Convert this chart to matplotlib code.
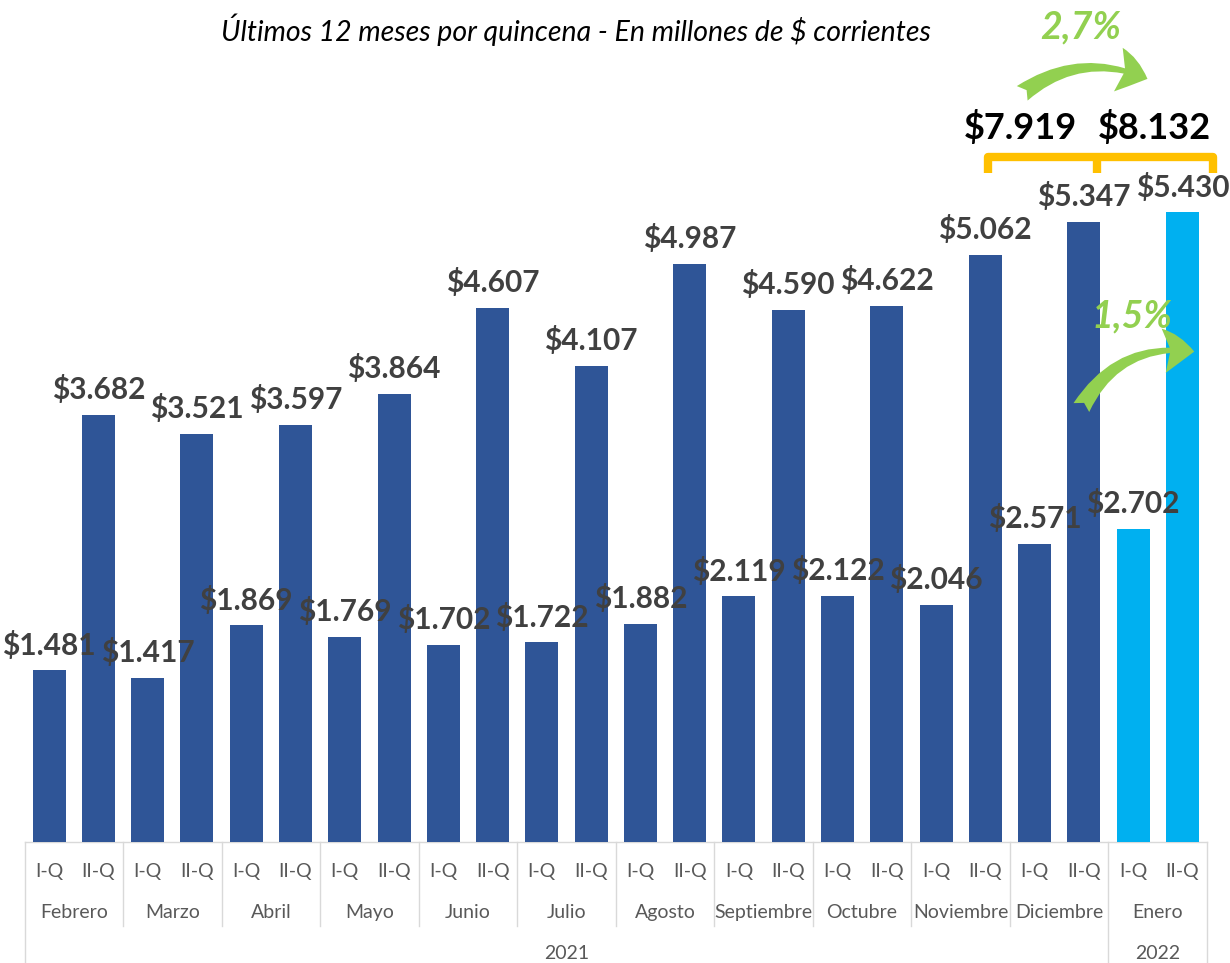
import matplotlib
matplotlib.use("Agg")
import matplotlib.pyplot as plt
from matplotlib.patches import FancyArrowPatch
from matplotlib.lines import Line2D

# ---------------- data ----------------
months = ['Febrero', 'Marzo', 'Abril', 'Mayo', 'Junio', 'Julio', 'Agosto',
          'Septiembre', 'Octubre', 'Noviembre', 'Diciembre', 'Enero']
quincenas = ['I-Q', 'II-Q']
years = ['2021', '2022']
months_per_year = [11, 1]
iq_values = [1481, 1417, 1869, 1769, 1702, 1722, 1882, 2119, 2122, 2046, 2571, 2702]
iiq_values = [3682, 3521, 3597, 3864, 4607, 4107, 4987, 4590, 4622, 5062, 5347, 5430]
subtitle = 'Últimos 12 meses por quincena - En millones de $ corrientes'
total_prev = 7919
total_curr = 8132
pct_month = '2,7%'
pct_q = '1,5%'

# ---------------- style ----------------
W, H = 1230, 963
FONT = 'Lato'
dark_blue = '#2F5597'
light_blue = '#00B0F0'
label_col = '#404040'
tick_col = '#595959'
grid_col = '#D9D9D9'
green = '#92D050'
orange = '#FFC000'

plt.rcParams['font.family'] = [FONT, 'DejaVu Sans']

fig = plt.figure(figsize=(W / 100, H / 100), dpi=100)
base_px = 842
ax_left, ax_right = 24.5, 1207
ax = fig.add_axes([ax_left / W, (H - base_px) / H, (ax_right - ax_left) / W, base_px / H])

# series in order
values, colors, qlabels = [], [], []
year_of_month = []
for yi, n in enumerate(months_per_year):
    year_of_month += [yi] * n
for m in range(len(months)):
    for q, v in zip(quincenas, [iq_values[m], iiq_values[m]]):
        values.append(v)
        qlabels.append(q)
        colors.append(dark_blue if year_of_month[m] == 0 else light_blue)

x = list(range(len(values)))
ax.bar(x, values, width=0.67, color=colors, zorder=2)
px_per_unit = 0.116
ax.set_ylim(0, base_px / px_per_unit)
ax.set_xlim(-0.5, len(values) - 0.5)
ax.axis('off')

def fmt(v):
    return '$' + f'{v:,}'.replace(',', '.')

for xi, v in zip(x, values):
    ax.annotate(fmt(v), (xi, v), xytext=(0, 18), textcoords='offset points',
                ha='center', va='center', fontsize=21.5, fontweight='bold',
                color=label_col, zorder=3)

# ---------------- category table ----------------
def fy(py):  # figure pixel y -> figure fraction
    return 1 - py / H

def fx(px):
    return px / W

def ay(py):  # pixel y -> axes fraction
    return (base_px - py) / base_px

trans = ax.get_xaxis_transform()
ax.plot([-0.5, len(values) - 0.5], [0, 0], transform=trans, color=grid_col,
        lw=1, clip_on=False, zorder=1)
for xi, q in zip(x, qlabels):
    ax.text(xi, ay(871), q, transform=trans, ha='center', va='center',
            fontsize=14, color=tick_col)
for m, name in enumerate(months):
    ax.text(2 * m + 0.5, ay(912), name, transform=trans, ha='center', va='center',
            fontsize=14, color=tick_col)
year_bounds = [0]
for n in months_per_year:
    year_bounds.append(year_bounds[-1] + n)
for m in range(len(months) + 1):
    bx = 2 * m - 0.5
    bottom = ay(963) if m in year_bounds else ay(926)
    ax.plot([bx, bx], [0, bottom], transform=trans, color=grid_col, lw=1,
            clip_on=False, zorder=1)
for yi, yname in enumerate(years):
    c = (year_bounds[yi] + year_bounds[yi + 1]) - 0.5
    ax.text(c, ay(953), yname, transform=trans, ha='center', va='center',
            fontsize=14, color=tick_col)

# ---------------- titles ----------------
fig.text(fx(576), fy(30), subtitle, ha='center', va='center', fontsize=20.5,
         fontstyle='italic', color='black')

# ---------------- annotations ----------------
fig.text(fx(1081), fy(27), pct_month, ha='center', va='center', fontsize=27,
         fontweight='bold', fontstyle='italic', color=green)
fig.text(fx(1132), fy(316), pct_q, ha='center', va='center', fontsize=27,
         fontweight='bold', fontstyle='italic', color=green)

style = 'fancy,head_length=22,head_width=32,tail_width=13'
arr1 = FancyArrowPatch((fx(1020), fy(95)), (fx(1150), fy(80)),
                       transform=fig.transFigure,
                       connectionstyle='arc3,rad=-0.3',
                       arrowstyle=style, color=green, lw=0)
fig.add_artist(arr1)
arr2 = FancyArrowPatch((fx(1080), fy(410)), (fx(1197), fy(352)),
                       transform=fig.transFigure,
                       connectionstyle='arc3,rad=-0.35',
                       arrowstyle=style, color=green, lw=0)
fig.add_artist(arr2)

bx = [fx(988), fx(988), fx(1213), fx(1213)]
by = [fy(173), fy(157), fy(157), fy(173)]
fig.add_artist(Line2D(bx, by, transform=fig.transFigure, color=orange, lw=6,
                      solid_joinstyle='round', solid_capstyle='butt'))
fig.add_artist(Line2D([fx(1097), fx(1097)], [fy(157), fy(173)],
                      transform=fig.transFigure, color=orange, lw=6,
                      solid_capstyle='butt'))

fig.text(fx(1020), fy(128), fmt(total_prev), ha='center', va='center',
         fontsize=26, fontweight='bold', color='black')
fig.text(fx(1154), fy(128), fmt(total_curr), ha='center', va='center',
         fontsize=26, fontweight='bold', color='black')

fig.savefig('out.png', dpi=100)
